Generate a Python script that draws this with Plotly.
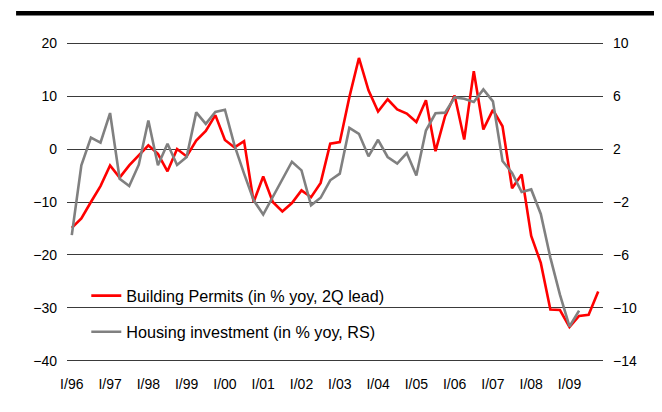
import plotly.graph_objects as go

# Building permits (% yoy, 2Q lead) - left axis
permits = [-14.9, -13.1, -10.0, -7.0, -3.1, -5.4, -3.1, -1.1, 0.7, -0.9,
           -4.2, 0.0, -1.4, 1.6, 3.4, 6.4, 1.7, 0.3, 1.5, -10.0,
           -5.2, -10.0, -11.8, -10.2, -7.8, -9.1, -6.4, 1.0, 1.3, 9.8,
           17.2, 11.1, 7.1, 9.4, 7.5, 6.7, 5.1, 9.2, -0.4, 6.2,
           10.1, 1.8, 14.7, 3.7, 7.4, 4.3, -7.4, -4.8, -16.4, -21.5,
           -30.3, -30.4, -33.6, -31.5, -31.3, -26.9]

# Housing investment (% yoy) - right axis
housing = [-4.5, 0.77, 2.86, 2.48, 4.72, -0.24, -0.79, 0.82, 4.16, 0.77,
           2.4, 0.8, 1.4, 4.77, 3.9, 4.8, 4.97, 2.28, 0.14, -1.87,
           -2.95, -1.65, -0.34, 1.04, 0.39, -2.25, -1.68, -0.36, 0.14, 3.6,
           3.15, 1.45, 2.7, 1.4, 0.9, 1.7, 0.0, 3.4, 4.7, 4.75,
           5.9, 5.8, 5.55, 6.5, 5.6, 1.1, 0.2, -1.25, -1.05, -2.9,
           -6.2, -9.0, -11.4, -10.2]

year_labels = ["I/96", "I/97", "I/98", "I/99", "I/00", "I/01", "I/02",
               "I/03", "I/04", "I/05", "I/06", "I/07", "I/08", "I/09"]
left_ticks = [-40, -30, -20, -10, 0, 10, 20]
right_ticks = [-14, -10, -6, -2, 2, 6, 10]

x_red = list(range(len(permits)))
x_gray = list(range(len(housing)))
tick_pos = [4 * k for k in range(len(year_labels))]

FONT = "Arial, Liberation Sans, sans-serif"

fig = go.Figure()
fig.add_trace(go.Scatter(
    x=x_red, y=permits, mode="lines", name="Building Permits (in % yoy, 2Q lead)",
    line=dict(color="#FF0000", width=2.6), yaxis="y", legendgroup="a"))
fig.add_trace(go.Scatter(
    x=x_gray, y=housing, mode="lines", name="Housing investment (in % yoy, RS)",
    line=dict(color="#808080", width=2.6), yaxis="y2", legendgroup="b"))

fig.update_layout(
    width=662, height=412,
    margin=dict(l=59.3, r=67.3, t=32.6, b=57.2),
    paper_bgcolor="white", plot_bgcolor="white",
    font=dict(family=FONT, size=14, color="black"),
    showlegend=True,
    legend=dict(x=0.036, y=0.262, xanchor="left", yanchor="top",
                bgcolor="rgba(0,0,0,0)", font=dict(size=16.2, family=FONT),
                tracegroupgap=12, traceorder="grouped"),
    xaxis=dict(range=[-0.5, 55.5], tickmode="array", tickvals=tick_pos,
               ticktext=year_labels, showgrid=False, zeroline=False,
               showline=False, ticks="", ticklabelstandoff=11,
               tickfont=dict(size=14)),
    yaxis=dict(range=[-40.4, 20.4], tickmode="array", tickvals=left_ticks,
               showgrid=True, gridcolor="#3a3a3a", gridwidth=1.4,
               zeroline=False, showline=False, ticks="",
               ticklabelstandoff=9, tickfont=dict(size=14)),
    yaxis2=dict(range=[-14.16, 10.16], tickmode="array", tickvals=right_ticks,
                overlaying="y", side="right", showgrid=False, zeroline=False,
                showline=False, ticks="", ticklabelstandoff=9,
                tickfont=dict(size=14)),
    shapes=[
        # white area behind the legend hiding the gridline
        dict(type="rect", xref="paper", yref="paper", x0=0, x1=0.664,
             y0=0.08, y1=0.235, fillcolor="white", line=dict(width=0),
             layer="between"),
        # thick rule at the top
        dict(type="line", xref="paper", yref="paper", x0=-0.095, x1=1.15,
             y0=1.086, y1=1.086, line=dict(color="black", width=4.5)),
    ],
)

fig.write_html("out.html")
